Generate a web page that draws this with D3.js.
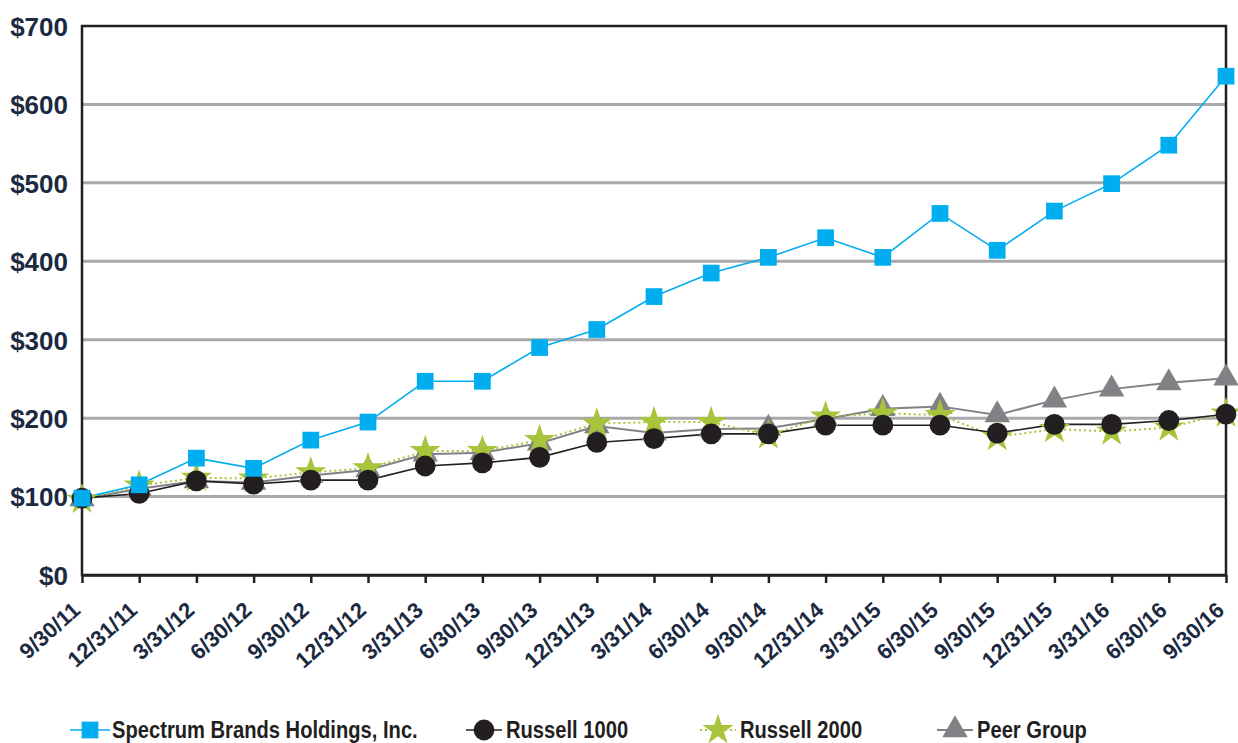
<!DOCTYPE html>
<html>
<head>
<meta charset="utf-8">
<script src="https://cdn.jsdelivr.net/npm/d3@7"></script>
<style>
  body { margin: 0; background: #fff; }
  svg text { font-family: "Liberation Sans Narrow", "Liberation Sans", "DejaVu Sans", sans-serif; font-weight: bold; }
</style>
</head>
<body>
<svg id="chart"></svg>
<script>
const dates = ["9/30/11","12/31/11","3/31/12","6/30/12","9/30/12","12/31/12","3/31/13","6/30/13","9/30/13","12/31/13",
               "3/31/14","6/30/14","9/30/14","12/31/14","3/31/15","6/30/15","9/30/15","12/31/15","3/31/16","6/30/16","9/30/16"];
const spectrum   = [98, 115, 149, 136, 172, 195, 247, 247, 290, 313, 355, 385, 405, 430, 405, 461, 414, 464, 499, 548, 636];
const russell1000 = [98, 104, 120, 116, 121, 121, 139, 143, 150, 169, 174, 180, 180, 191, 191, 191, 181, 192, 192, 197, 205];
const russell2000 = [96, 114, 124, 123, 131, 136, 158, 158, 172, 193, 195, 195, 178, 202, 206, 204, 176, 186, 183, 188, 206];
const peerGroup  = [97, 110, 120, 118, 127, 134, 154, 156, 168, 190, 181, 186, 187, 199, 212, 215, 204, 223, 237, 245, 251];
const yTicks = [0, 100, 200, 300, 400, 500, 600, 700];

const W = 1238, H = 743;
const margin = { top: 26, right: 12, bottom: 168, left: 82 };
const width = W - margin.left - margin.right,
      height = H - margin.top - margin.bottom;

const svg = d3.select("#chart").attr("width", W).attr("height", H)
  .append("g").attr("transform", `translate(${margin.left},${margin.top})`);

const x = d3.scalePoint().domain(dates).range([0, width]);
const y = d3.scaleLinear().domain([0, 700]).range([height, 0]);

// gridlines
svg.selectAll(".grid").data(yTicks.filter(d => d > 0 && d < 700)).enter().append("line")
  .attr("x1", 0).attr("x2", width)
  .attr("y1", d => y(d)).attr("y2", d => y(d))
  .attr("stroke", "#a7a9ac").attr("stroke-width", 3);

// frame
svg.append("rect").attr("x", 0).attr("y", 0).attr("width", width).attr("height", height)
  .attr("fill", "none").attr("stroke", "#231f20").attr("stroke-width", 2.5);

// x axis
const xAxis = svg.append("g").attr("transform", `translate(0,${height})`)
  .call(d3.axisBottom(x).tickSize(8).tickSizeOuter(0));
xAxis.select(".domain").attr("stroke", "#231f20").attr("stroke-width", 2.5);
xAxis.selectAll(".tick line").attr("stroke", "#231f20").attr("stroke-width", 2.5);
xAxis.selectAll("text")
  .attr("fill", "#1b2a41").style("font-size", "22px")
  .attr("text-anchor", "end")
  .attr("x", 0).attr("y", 0).attr("dy", 0)
  .attr("transform", "translate(-1,37) rotate(-42)");

// y axis
const yAxis = svg.append("g")
  .call(d3.axisLeft(y).tickValues(yTicks).tickSize(0).tickPadding(14).tickFormat(d => "$" + d));
yAxis.select(".domain").remove();
yAxis.selectAll("text").attr("fill", "#1b2a41").style("font-size", "26px").attr("dy", "0.36em");

const series = [
  { name: "Peer Group", values: peerGroup, color: "#808285", width: 2, dash: null, shape: d3.symbolTriangle, size: 280 },
  { name: "Russell 2000", values: russell2000, color: "#a8c43a", width: 2, dash: "2,3", shape: d3.symbolStar, size: 300 },
  { name: "Russell 1000", values: russell1000, color: "#231f20", width: 1.6, dash: null, shape: d3.symbolCircle, size: 340 },
  { name: "Spectrum Brands Holdings, Inc.", values: spectrum, color: "#00aeef", width: 1.6, dash: null, shape: d3.symbolSquare, size: 280 }
];

const line = d3.line().x((d, i) => x(dates[i])).y(d => y(d));

series.forEach(s => {
  svg.append("path").datum(s.values)
    .attr("fill", "none").attr("stroke", s.color).attr("stroke-width", s.width)
    .attr("stroke-dasharray", s.dash).attr("d", line);
});
series.forEach(s => {
  svg.selectAll(null).data(s.values).enter().append("path")
    .attr("transform", (d, i) => `translate(${x(dates[i])},${y(d)})`)
    .attr("d", d3.symbol().type(s.shape).size(s.size))
    .attr("fill", s.color);
});

// legend
const legendItems = [
  { s: series[3], x: 90, half: 20 },
  { s: series[2], x: 484, half: 18 },
  { s: series[1], x: 718, half: 18 },
  { s: series[0], x: 955, half: 18 }
];
const legend = d3.select("#chart").append("g").attr("transform", "translate(0,730)");
legendItems.forEach(it => {
  const g = legend.append("g").attr("transform", `translate(${it.x},0)`);
  g.append("line").attr("x1", -it.half).attr("x2", it.half).attr("y1", 0).attr("y2", 0)
    .attr("stroke", it.s.color).attr("stroke-width", it.s.width)
    .attr("stroke-dasharray", it.s.dash);
  g.append("path")
    .attr("d", d3.symbol().type(it.s.shape).size(it.s.size)).attr("fill", it.s.color);
  g.append("text").attr("x", 0).attr("y", 0).attr("dy", "0.35em")
    .attr("transform", "translate(22,0) scale(0.84,1)")
    .attr("fill", "#231f20").style("font-size", "24px").text(it.s.name);
});
</script>
</body>
</html>
